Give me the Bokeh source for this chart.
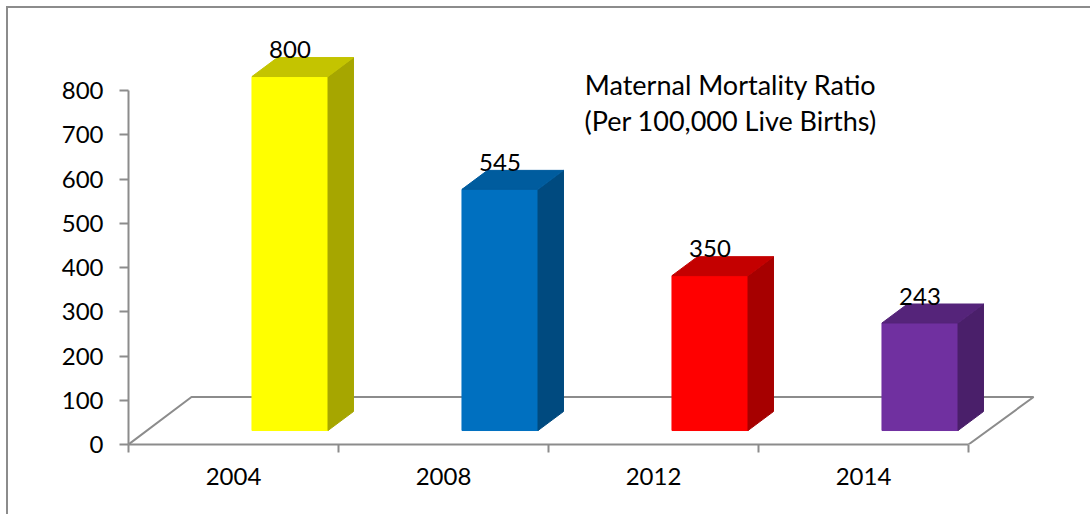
from bokeh.plotting import figure
from bokeh.embed import file_html
from bokeh.resources import INLINE
from bokeh.models import Range1d, FixedTicker
from bokeh.core.properties import value

years = ["2004", "2008", "2012", "2014"]
ratios = [800, 545, 350, 243]
front_colors = ["#FFFF00", "#0070C0", "#FF0000", "#7030A0"]
side_colors = ["#A6A600", "#004A7F", "#A60000", "#4A1F6A"]
top_colors = ["#C4C400", "#005C9E", "#C40000", "#55247A"]
title_lines = ["Maternal Mortality Ratio", "(Per 100,000 Live Births)"]
y_ticks = [0, 100, 200, 300, 400, 500, 600, 700, 800]

FONT = "Lato"
GREY = "#8C8C8C"
BASE = 31.6
BAR_SHIFT = 0.269
BAR_W = 0.362
DX, DY = 0.1214, 42.9
FX, FY = 0.30, 107.3

p = figure(width=1090, height=514, output_backend="svg", toolbar_location=None,
           x_range=Range1d(0, 962 / 210), y_range=Range1d(0, 444 / 0.4425),
           min_border_left=128, min_border_bottom=70, min_border_top=0, min_border_right=0,
           outline_line_color=None, background_fill_alpha=0, border_fill_alpha=0)
# the picture's frame (left and top edges) lies behind the transparent plot
p.styles = {"background": f"linear-gradient({GREY},{GREY}) 6px 6px / 2px 100% no-repeat, "
                          f"linear-gradient({GREY},{GREY}) 6px 6px / 100% 2px no-repeat, white"}
p.grid.visible = False

n = len(years)
p.line([0, FX, n + FX + 0.01, n], [0, FY, FY, 0], line_color=GREY, line_width=2)

left = [i + 0.5 + BAR_SHIFT - BAR_W / 2 for i in range(n)]
right = [l + BAR_W for l in left]
tops = [BASE + r for r in ratios]

p.quad(left=left, right=right, bottom=[BASE] * n, top=tops,
       fill_color=front_colors, line_color=front_colors, line_width=1)
p.patches([[r, r + DX, r + DX, r] for r in right],
          [[BASE, BASE + DY, t + DY, t] for t in tops],
          fill_color=side_colors, line_color=side_colors, line_width=1)
p.patches([[l, l + DX, r + DX, r] for l, r in zip(left, right)],
          [[t, t + DY, t + DY, t] for t in tops],
          fill_color=top_colors, line_color=top_colors, line_width=1)

p.text(x=[i + 0.5 + BAR_SHIFT for i in range(n)], y=[t + DY for t in tops], text=[str(r) for r in ratios],
       text_align="center", text_baseline="middle", y_offset=-8,
       text_font=value(FONT), text_font_size="24px", text_color="black")

p.text(x=[2.867, 2.867], y=[813.6, 732], text=title_lines, text_align="center", text_baseline="middle",
       text_font=value(FONT), text_font_size="27px", text_color="black")

ya = p.yaxis[0]
ya.ticker = FixedTicker(ticks=y_ticks)
ya.bounds = (0, 800)
ya.major_tick_out = 9
ya.major_tick_in = 0
ya.minor_tick_out = 0
ya.minor_tick_in = 0
ya.major_label_standoff = 16
ya.axis_line_color = GREY
ya.axis_line_width = 2
ya.major_tick_line_color = GREY
ya.major_tick_line_width = 2
ya.major_label_text_font = FONT
ya.major_label_text_font_size = "24px"
ya.major_label_text_color = "black"

xa = p.xaxis[0]
xa.ticker = FixedTicker(ticks=[i + 0.5 for i in range(n)], minor_ticks=list(range(n + 1)))
xa.major_label_overrides = {i + 0.5: y for i, y in enumerate(years)}
xa.bounds = (0, n)
xa.major_tick_out = 0
xa.major_tick_in = 0
xa.minor_tick_out = 8
xa.minor_tick_in = 0
xa.major_label_standoff = 15
xa.axis_line_color = GREY
xa.axis_line_width = 2
xa.minor_tick_line_color = GREY
xa.minor_tick_line_width = 2
xa.major_label_text_font = FONT
xa.major_label_text_font_size = "24px"
xa.major_label_text_color = "black"

open("out.html", "w").write(file_html(p, INLINE))
